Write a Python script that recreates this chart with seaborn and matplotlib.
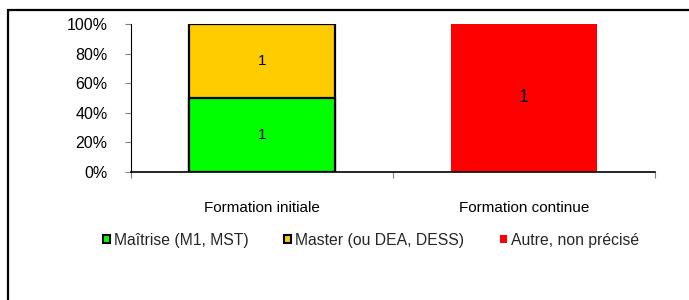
import numpy as np
import pandas as pd
import matplotlib
matplotlib.use("Agg")
import matplotlib.pyplot as plt
from matplotlib.patches import Patch, Rectangle
from matplotlib.ticker import FixedLocator, PercentFormatter
import seaborn as sns

categories = ["Formation initiale", "Formation continue"]
series = ["Maîtrise (M1, MST)", "Master (ou DEA, DESS)", "Autre, non précisé"]
maitrise = [1, 0]
master = [1, 0]
autre = [0, 1]
colors = ["#00FF00", "#FFCC00", "#FF0000"]
edge_bar = [True, False]  # black outline per category

sns.set_theme(style="white")
plt.rcParams['font.family'] = ['Liberation Sans', 'DejaVu Sans']

counts = np.array([maitrise, master, autre], dtype=float)
totals = counts.sum(axis=0)
pct = counts / totals * 100
cum = np.cumsum(pct, axis=0)
bottoms = cum - pct

fig = plt.figure(figsize=(6.89, 3.0), dpi=100)
ax = fig.add_axes([131/689, 1-172/300, (655-131)/689, (172-24)/300])

# draw cumulative layers back to front
for i in reversed(range(len(series))):
    df = pd.DataFrame({"cat": categories, "val": cum[i]})
    sns.barplot(data=df, x="cat", y="val", color=colors[i], width=0.557,
                ax=ax, saturation=1, linewidth=0, edgecolor="black")
    layer = ax.patches[-len(categories):]
    for j, p in enumerate(layer):
        p.set_facecolor(colors[i])
        if edge_bar[j] and pct[i, j] > 0:
            p.set_linewidth(1.6)
            p.set_edgecolor("black")
        else:
            p.set_linewidth(0)

# value labels
for i in range(len(series)):
    for j in range(len(categories)):
        if counts[i, j] > 0:
            fs = 11 if edge_bar[j] else 13
            ax.text(j, bottoms[i, j] + pct[i, j] / 2, f"{int(counts[i, j])}",
                    ha="center", va="center", fontsize=fs, color="black")

ax.set_xlim(-0.5, 1.5)
ax.set_ylim(0, 100)
ax.set_xlabel("")
ax.set_ylabel("")
ax.yaxis.set_major_locator(FixedLocator([0, 20, 40, 60, 80, 100]))
ax.yaxis.set_major_formatter(PercentFormatter(decimals=0))
ax.tick_params(axis="y", direction="out", length=4, width=0.8, color="#808080",
               pad=13, labelsize=11.5, left=True, labelcolor="black")

ax.xaxis.set_major_locator(FixedLocator([-0.5, 0.5, 1.5]))
ax.xaxis.set_minor_locator(FixedLocator([0, 1]))
ax.set_xticklabels(["", "", ""])
ax.set_xticklabels(categories, minor=True)
ax.tick_params(axis="x", which="major", direction="out", length=4, width=0.8,
               color="#808080", bottom=True)
ax.tick_params(axis="x", which="minor", length=0, pad=21, labelsize=11,
               labelcolor="black")

for s in ["top", "right"]:
    ax.spines[s].set_visible(False)
ax.spines["left"].set_color("black")
ax.spines["left"].set_linewidth(0.8)
ax.spines["bottom"].set_color("black")
ax.spines["bottom"].set_linewidth(1.2)

handles = []
for i in range(len(series)):
    ec = "black" if i < 2 else colors[i]
    lw = 1.5 if i < 2 else 0
    handles.append(Patch(facecolor=colors[i], edgecolor=ec, linewidth=lw))
fig.legend(handles, series, loc="center", bbox_to_anchor=(371/689, 1-240/300),
           ncol=3, frameon=False, fontsize=11.3, handlelength=0.45, handleheight=0.45,
           handletextpad=0.25, columnspacing=2.3, borderpad=0, borderaxespad=0)

# outer frame (clipped at right and bottom edges)
fig.patches.append(Rectangle((8/689, -0.1), 1.2, 1 - 10/300 + 0.1,
                             transform=fig.transFigure, fill=False,
                             edgecolor="black", linewidth=1.6))

fig.savefig("out.png", dpi=100)
